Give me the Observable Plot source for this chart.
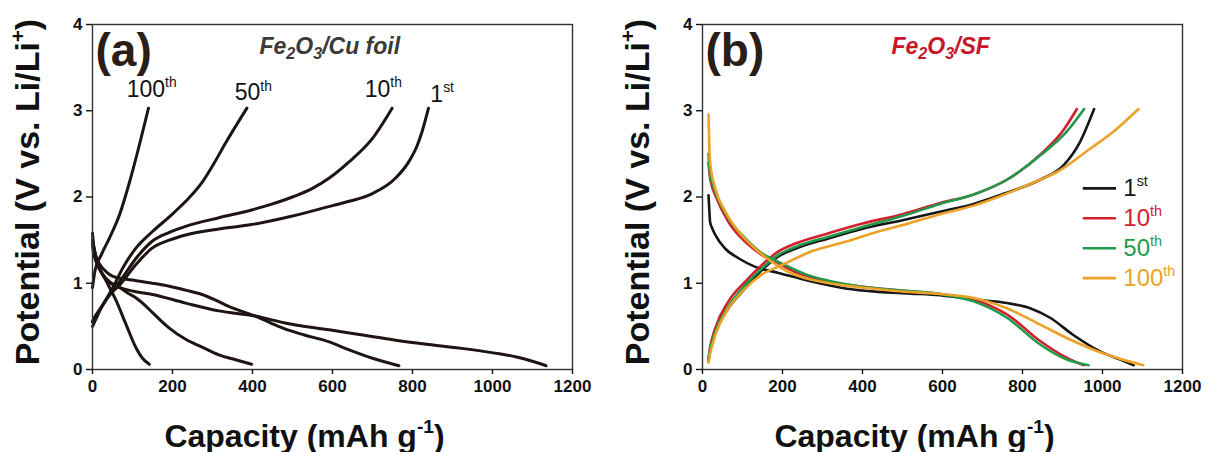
<!DOCTYPE html>
<html>
<head>
<meta charset="utf-8">
<script src="https://cdn.jsdelivr.net/npm/d3@7"></script>
<script src="https://cdn.jsdelivr.net/npm/@observablehq/plot@0.6"></script>
<style>
  html, body { margin: 0; padding: 0; background: #fff; }
  #wrap { display: flex; width: 1207px; height: 452px; }
  svg { display: block; }
</style>
</head>
<body>
<div id="wrap"></div>
<script>
// ---------- axis ticks ----------
const xTicks = [0, 200, 400, 600, 800, 1000, 1200];
const yTicks = [0, 1, 2, 3, 4];

// ---------- panel (a): Fe2O3 / Cu foil  [capacity, potential] ----------
const a1Dis = [[0,1.58],[4,1.38],[10,1.25],[20,1.14],[35,1.05],[55,0.98],[68,0.95],[100,0.91],[150,0.87],[233,0.77],[316,0.68],[407,0.62],[481,0.54],[592,0.46],[675,0.40],[758,0.34],[840,0.29],[923,0.245],[1006,0.19],[1060,0.145],[1089,0.11],[1134,0.044]];
const a10Dis = [[0,1.5],[8,1.32],[18,1.22],[35,1.13],[51,1.08],[80,1.05],[109,1.03],[150,1.0],[192,0.965],[233,0.92],[274,0.87],[305,0.81],[332,0.75],[370,0.68],[407,0.62],[450,0.53],[481,0.47],[530,0.4],[592,0.32],[640,0.23],[700,0.13],[766,0.044]];
const a50Dis = [[0,1.45],[2,1.37],[14,1.2],[26,1.1],[45,1.0],[68,0.95],[90,0.88],[109,0.83],[130,0.75],[150,0.66],[170,0.57],[192,0.48],[233,0.35],[274,0.26],[316,0.17],[360,0.11],[398,0.06]];
const a100Dis = [[0,1.5],[2,1.45],[14,1.22],[35,1.02],[60,0.79],[84,0.52],[109,0.25],[125,0.13],[142,0.06]];
const a1Chg = [[0,0.5],[10,0.6],[26,0.75],[50,0.9],[68,0.98],[109,1.22],[150,1.41],[192,1.5],[233,1.56],[316,1.63],[398,1.68],[500,1.78],[600,1.9],[642,1.95],[700,2.04],[758,2.22],[791,2.41],[812,2.6],[824,2.76],[840,3.03]];
const a10Chg = [[0,0.55],[10,0.63],[26,0.75],[50,0.92],[68,1.02],[109,1.29],[150,1.49],[192,1.59],[233,1.66],[316,1.76],[398,1.85],[450,1.92],[500,2.0],[550,2.1],[592,2.22],[642,2.41],[700,2.68],[749,3.03]];
const a50Chg = [[0,0.56],[2,0.58],[26,0.75],[51,0.95],[76,1.18],[109,1.41],[150,1.6],[192,1.77],[233,1.95],[274,2.17],[305,2.4],[332,2.62],[386,3.03]];
const a100Chg = [[0,0.95],[6,1.14],[22,1.33],[43,1.53],[68,1.8],[93,2.18],[117,2.6],[140,3.03]];

const aLabelText = ["100^{th}", "50^{th}", "10^{th}", "1^{st}"];
const aLabelX = [148, 402, 727, 874];
const aLabelY = [3.16, 3.12, 3.16, 3.10];

// ---------- panel (b): Fe2O3 / SF ----------
const b1Dis = [[15,2.02],[17,1.85],[19,1.71],[25,1.63],[32,1.56],[57,1.4],[90,1.29],[132,1.19],[190,1.12],[273,1.02],[357,0.94],[440,0.9],[520,0.88],[594,0.86],[678,0.81],[761,0.77],[819,0.71],[869,0.6],[927,0.4],[994,0.21],[1044,0.115],[1078,0.05]];
const b10Dis = [[15,2.4],[18,2.25],[22,2.15],[32,2.02],[65,1.71],[107,1.48],[148,1.33],[190,1.23],[232,1.13],[315,1.02],[400,0.96],[482,0.92],[594,0.875],[678,0.81],[761,0.64],[844,0.33],[911,0.135],[953,0.05]];
const b50Dis = [[15,2.5],[18,2.3],[22,2.2],[32,2.06],[65,1.75],[107,1.52],[148,1.35],[198,1.23],[260,1.1],[315,1.03],[400,0.96],[482,0.92],[594,0.875],[678,0.79],[761,0.6],[844,0.29],[911,0.115],[965,0.05]];
const b100Dis = [[15,2.96],[17,2.6],[19,2.4],[32,2.1],[57,1.83],[90,1.6],[132,1.4],[173,1.25],[215,1.13],[273,1.04],[332,0.99],[398,0.95],[482,0.91],[594,0.875],[678,0.83],[761,0.71],[844,0.52],[927,0.33],[994,0.2],[1061,0.1],[1102,0.05]];
const b1Chg = [[15,0.1],[20,0.25],[32,0.44],[65,0.71],[107,0.94],[148,1.15],[190,1.31],[232,1.4],[315,1.52],[398,1.63],[500,1.73],[594,1.83],[678,1.92],[761,2.05],[844,2.2],[903,2.37],[944,2.64],[979,3.02]];
const b10Chg = [[15,0.13],[20,0.28],[32,0.48],[65,0.79],[107,1.02],[148,1.21],[190,1.37],[232,1.46],[315,1.58],[398,1.69],[500,1.8],[594,1.93],[678,2.03],[761,2.2],[844,2.49],[903,2.78],[936,3.02]];
const b50Chg = [[15,0.11],[20,0.25],[32,0.44],[65,0.73],[107,0.98],[148,1.17],[190,1.33],[232,1.42],[315,1.54],[398,1.65],[500,1.78],[594,1.92],[678,2.03],[761,2.2],[844,2.48],[911,2.76],[954,3.02]];
const b100Chg = [[15,0.08],[20,0.2],[32,0.4],[65,0.71],[107,0.94],[148,1.1],[198,1.21],[273,1.37],[357,1.48],[440,1.6],[520,1.7],[594,1.8],[678,1.9],[761,2.04],[844,2.2],[886,2.29],[969,2.56],[1028,2.76],[1090,3.02]];

const bCycles = ["1^{st}", "10^{th}", "50^{th}", "100^{th}"];
const bColors = ["#161616", "#d2202e", "#1f9a4b", "#eaa328"];

// ---------- helpers ----------
const FONT = "'Liberation Sans', Arial, Helvetica, sans-serif";

function lineMark(pts, color, width) {
  return Plot.line(pts, {x: d => d[0], y: d => d[1], stroke: color, strokeWidth: width, curve: "monotone-x", strokeLinecap: "round", strokeLinejoin: "round"});
}

function basePanel({width, marginLeft, marginRight, marks}) {
  return Plot.plot({
    width, height: 452,
    marginLeft, marginRight, marginTop: 24, marginBottom: 83,
    style: {fontFamily: FONT, background: "#fff", overflow: "visible", color: "#111"},
    x: {domain: [0, 1200]},
    y: {domain: [0, 4]},
    marks: [
      ...marks,
      Plot.frame({stroke: "#333", strokeWidth: 1.4}),
      Plot.axisX({ticks: xTicks, tickFormat: d => String(d), tickSize: 5, tickPadding: 5, fontSize: 17, fontWeight: "bold", label: null, strokeWidth: 1.4}),
      Plot.axisY({ticks: yTicks, tickFormat: d => String(d), tickSize: 6, tickPadding: 4, fontSize: 17, fontWeight: "bold", label: null, strokeWidth: 1.4}),
      Plot.text(["Potential (V vs. Li/Li^{+})"], {frameAnchor: "left", rotate: -90, dx: -64, dy: -5, fontSize: 34, fontWeight: "bold", textAnchor: "middle", lineAnchor: "middle", fill: "#111"}),
      Plot.text(["Capacity (mAh g^{-1})"], {frameAnchor: "bottom", dx: -28, dy: 77, lineAnchor: "bottom", fontSize: 32, fontWeight: "bold", fill: "#111"})
    ]
  });
}

// rich text: ^{..} superscript, _{..} subscript
function richify(svg) {
  svg.querySelectorAll("text").forEach(t => {
    if (t.querySelector("tspan")) return;
    const s = t.textContent;
    if (!/[\^_]\{/.test(s)) return;
    const fs = parseFloat(getComputedStyle(t).fontSize) || 16;
    t.textContent = "";
    const re = /([\^_])\{([^}]*)\}|([^\^_]+)/g;
    let m, shift = 0;
    const NS = "http://www.w3.org/2000/svg";
    while ((m = re.exec(s))) {
      const ts = document.createElementNS(NS, "tspan");
      if (m[1]) {
        const sup = m[1] === "^";
        const target = sup ? -0.42 * fs : 0.26 * fs;
        ts.setAttribute("dy", target - shift);
        ts.setAttribute("font-size", ((sup ? 0.6 : 0.7) * fs).toFixed(1));
        shift = target;
        ts.textContent = m[2];
      } else {
        if (shift) ts.setAttribute("dy", -shift);
        shift = 0;
        ts.textContent = m[3];
      }
      t.appendChild(ts);
    }
  });
}

// ---------- panel a ----------
const aColor = "#1e1512";
const aMarks = [
  ...[a1Dis, a10Dis, a50Dis, a100Dis, a1Chg, a10Chg, a50Chg, a100Chg].map(p => lineMark(p, aColor, 3)),
  Plot.text(["(a)"], {frameAnchor: "top-left", textAnchor: "start", lineAnchor: "bottom", dx: 3, dy: 41, fontSize: 46, fontWeight: "bold", fill: "#2b1d17"}),
  Plot.text(["Fe_{2}O_{3}/Cu foil"], {frameAnchor: "top-left", textAnchor: "start", lineAnchor: "bottom", dx: 167, dy: 29, fontSize: 23, fontWeight: "bold", fontStyle: "italic", fill: "#3a3a3a"}),
  Plot.text(aLabelText, {x: (d, i) => aLabelX[i], y: (d, i) => aLabelY[i], text: d => d, fontSize: 23, textAnchor: "middle", lineAnchor: "bottom", fill: "#111"})
];
const svgA = basePanel({width: 603, marginLeft: 92, marginRight: 31, marks: aMarks});

// ---------- panel b ----------
const legendTop = 2.10, legendStep = 0.347;
const bSeries = [[b1Dis, b1Chg], [b10Dis, b10Chg], [b50Dis, b50Chg], [b100Dis, b100Chg]];
const bMarks = [
  ...bSeries.flatMap(([d, c], i) => [lineMark(d, bColors[i], 2.6), lineMark(c, bColors[i], 2.6)]),
  Plot.text(["(b)"], {frameAnchor: "top-left", textAnchor: "start", lineAnchor: "bottom", dx: 3, dy: 41, fontSize: 46, fontWeight: "bold", fill: "#2b1d17"}),
  Plot.text(["Fe_{2}O_{3}/SF"], {frameAnchor: "top-left", textAnchor: "start", lineAnchor: "bottom", dx: 189, dy: 29, fontSize: 23, fontWeight: "bold", fontStyle: "italic", fill: "#c8162a"}),
  ...bCycles.map((c, i) => Plot.ruleY([legendTop - i * legendStep], {x1: 952, x2: 1035, stroke: bColors[i], strokeWidth: 2.6})),
  ...bCycles.map((c, i) => Plot.text([c], {x: 1052, y: legendTop - i * legendStep, text: d => d, fontSize: 24, textAnchor: "start", lineAnchor: "middle", fill: bColors[i]}))
];
const svgB = basePanel({width: 604, marginLeft: 99, marginRight: 25, marks: bMarks});

const wrap = document.getElementById("wrap");
wrap.appendChild(svgA);
wrap.appendChild(svgB);
richify(svgA);
richify(svgB);
</script>
</body>
</html>
